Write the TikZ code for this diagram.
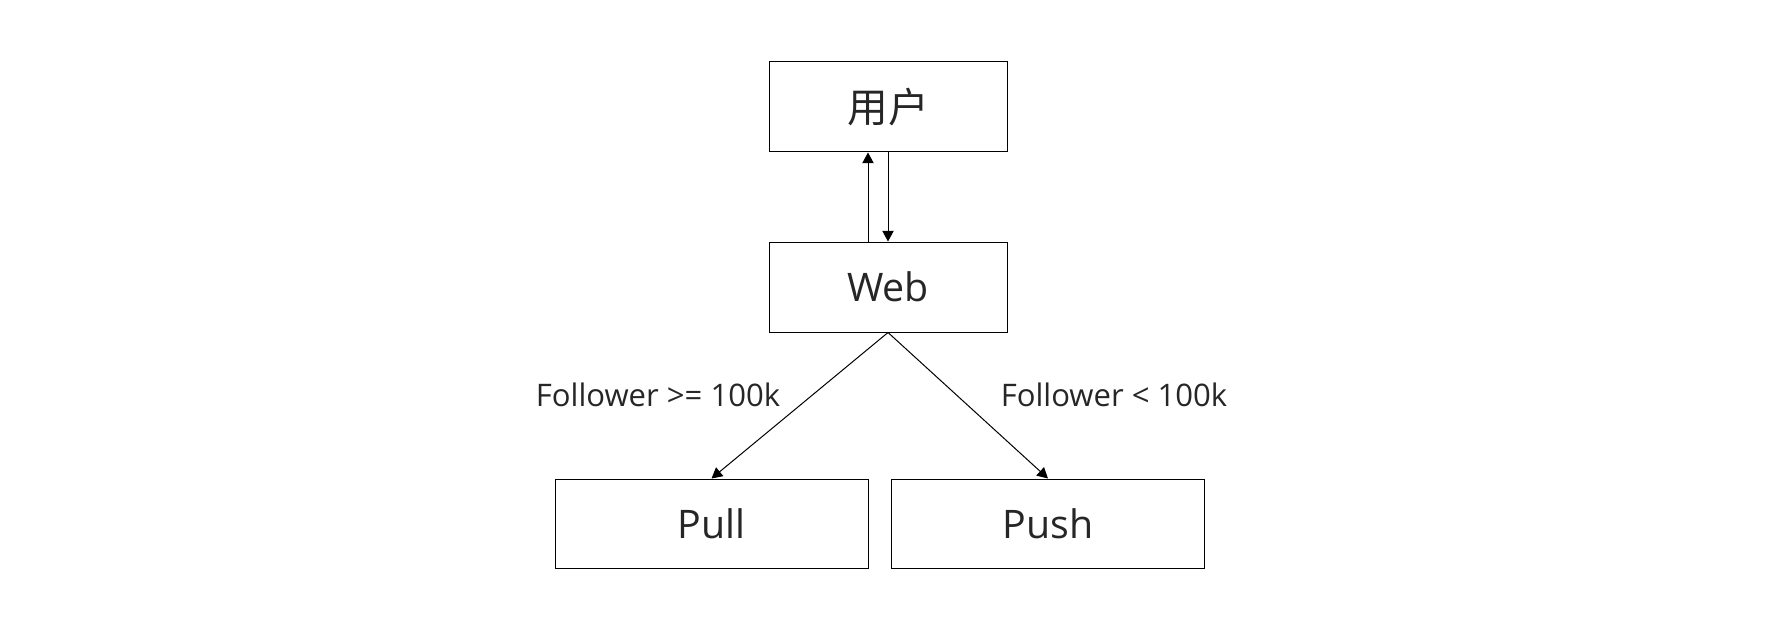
\documentclass[tikz,border=0pt]{standalone}
\usepackage{fontspec}
\setmainfont{Open Sans}
\newfontfamily\cjk{Noto Sans CJK SC}
\usepackage{tikz}
\usetikzlibrary{arrows.meta,positioning}
\definecolor{inkgray}{HTML}{262626}

\begin{document}
\begin{tikzpicture}[
    x=0.75pt,y=-0.75pt,
    every node/.style={text=inkgray},
    block/.style={draw=black,line width=0.75pt,fill=white,
                  minimum width=178.5pt,minimum height=67.5pt,
                  inner sep=0pt,font=\fontsize{29.5}{34}\selectfont},
    wideblock/.style={block,minimum width=234.75pt,minimum height=66.75pt},
    cond/.style={font=\fontsize{23.3}{28}\selectfont,inner sep=0pt},
    arrow/.style={-{Triangle[length=8pt,width=8.5pt]},line width=0.75pt,black}
  ]
    \useasboundingbox (0,0) rectangle (1781,638);
    \node[block] (user) at (888,107) {\cjk\fontsize{30.5}{34}\selectfont 用户};
    \node[block] (web) at (888,287) {Web};
    \node[wideblock] (pull) at (711.5,523.5) {Pull};
    \node[wideblock] (push) at (1048,523.5) {Push};
    \node[cond] (bigfans) at (658,395) {Follower >= 100k};
    \node[cond] (smallfans) at (1114,395) {Follower < 100k};
    \draw[arrow] ([xshift=-15pt]web.north) -- ([xshift=-15pt]user.south);
    \draw[arrow] (user.south) -- (web.north);
    \draw[arrow] (web.south) -- (pull.north);
    \draw[arrow] (web.south) -- (push.north);
  \end{tikzpicture}
\end{document}
